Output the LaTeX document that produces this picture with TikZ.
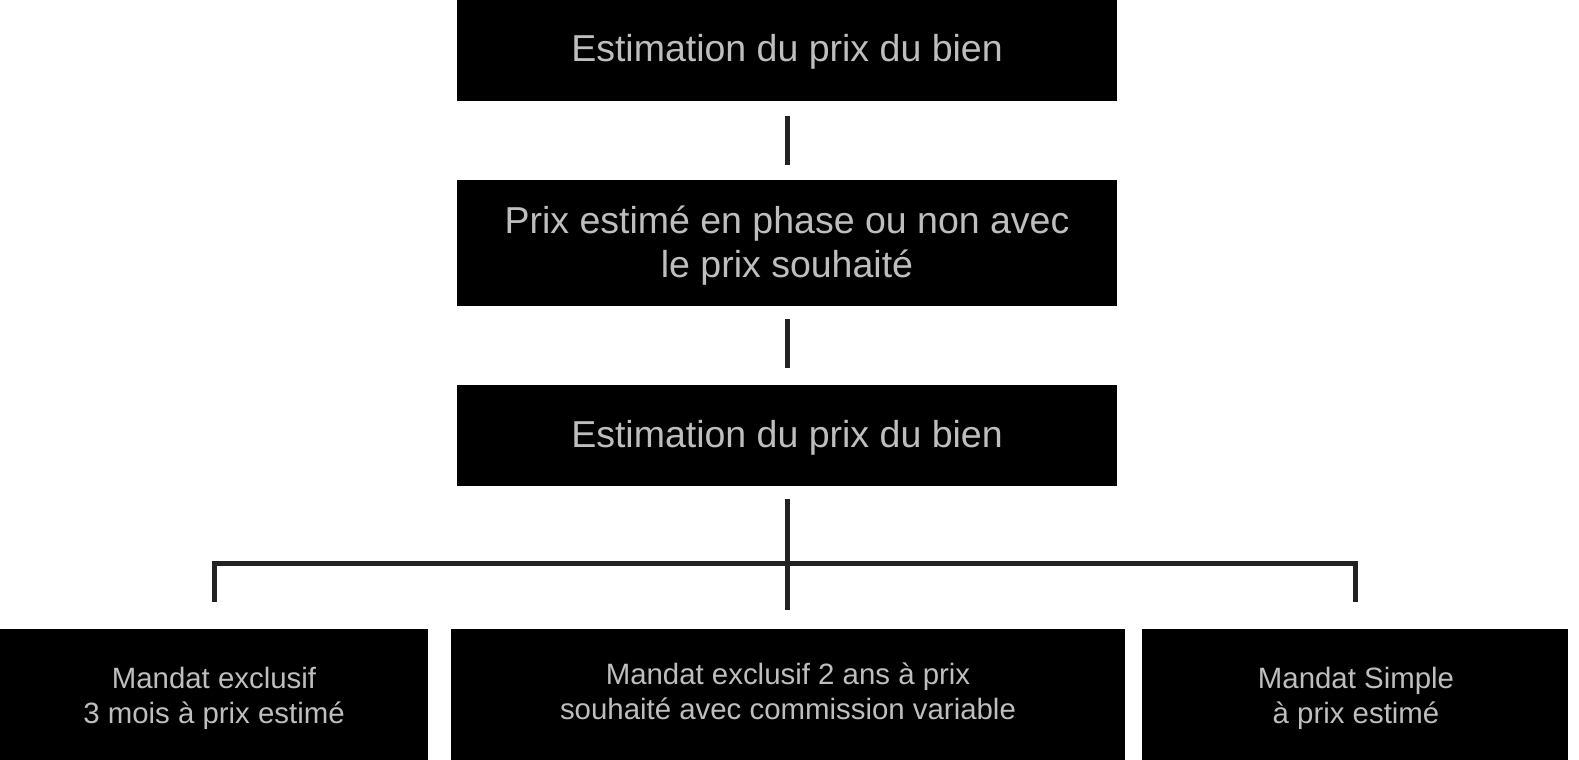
\documentclass[tikz,border=0pt]{standalone}
\usepackage{fontspec}
\setmainfont{Liberation Sans}
\definecolor{txtgray}{RGB}{190,190,190}
\definecolor{linegray}{RGB}{34,34,34}
\tikzset{
  box/.style={fill=black, draw=none, inner sep=0pt, outer sep=0pt},
  bigtext/.style={text=txtgray, align=center, anchor=base, inner sep=0pt,
    font=\fontsize{37.5bp}{44bp}\selectfont},
  smalltext/.style={text=txtgray, align=center, anchor=base, inner sep=0pt,
    font=\fontsize{29.4bp}{35bp}\selectfont},
  conn/.style={draw=linegray, line width=5bp, line cap=butt, line join=miter}
}
\begin{document}
\begin{tikzpicture}[x=1bp, y=-1bp]
\fill[white] (0,0) rectangle (1579,760);
\useasboundingbox (0,0) rectangle (1579,760);
% boxes
\node[box, minimum width=660bp, minimum height=101bp] (b1) at (787,50.5) {};
\node[box, minimum width=660bp, minimum height=126bp] (b2) at (787,243) {};
\node[box, minimum width=660bp, minimum height=101bp] (b3) at (787,435.5) {};
\node[box, minimum width=428bp, minimum height=131bp] (bl) at (214,694.5) {};
\node[box, minimum width=674bp, minimum height=131bp] (bm) at (788,694.5) {};
\node[box, minimum width=426bp, minimum height=131bp] (br) at (1355,694.5) {};
% texts (base anchor = baseline of the last line)
\node[bigtext] (t1) at (787,62) {Estimation du prix du bien};
\node[bigtext] (t2) at (787,277) {Prix estimé en phase ou non avec\\le prix souhaité};
\node[bigtext] (t3) at (787,447) {Estimation du prix du bien};
\node[smalltext] (tl) at (214,723) {Mandat exclusif\\3 mois à prix estimé};
\node[smalltext] (tm) at (788,719) {Mandat exclusif 2 ans à prix\\souhaité avec commission variable};
\node[smalltext] (tr) at (1356,723) {Mandat Simple\\à prix estimé};
% connectors
\coordinate (hub) at (787,563);
\draw[conn, shorten <=15bp, shorten >=15bp] (b1.south) -- (b2.north);
\draw[conn, shorten <=13bp, shorten >=17bp] (b2.south) -- (b3.north);
\draw[conn, shorten <=13bp, shorten >=19bp] (b3.south) -- (b3.south |- bm.north);
\draw[conn, shorten <=27bp, shorten >=27bp] (bl.north) -- (bl.north |- hub) -- (br.north |- hub) -- (br.north);
\end{tikzpicture}
\end{document}
